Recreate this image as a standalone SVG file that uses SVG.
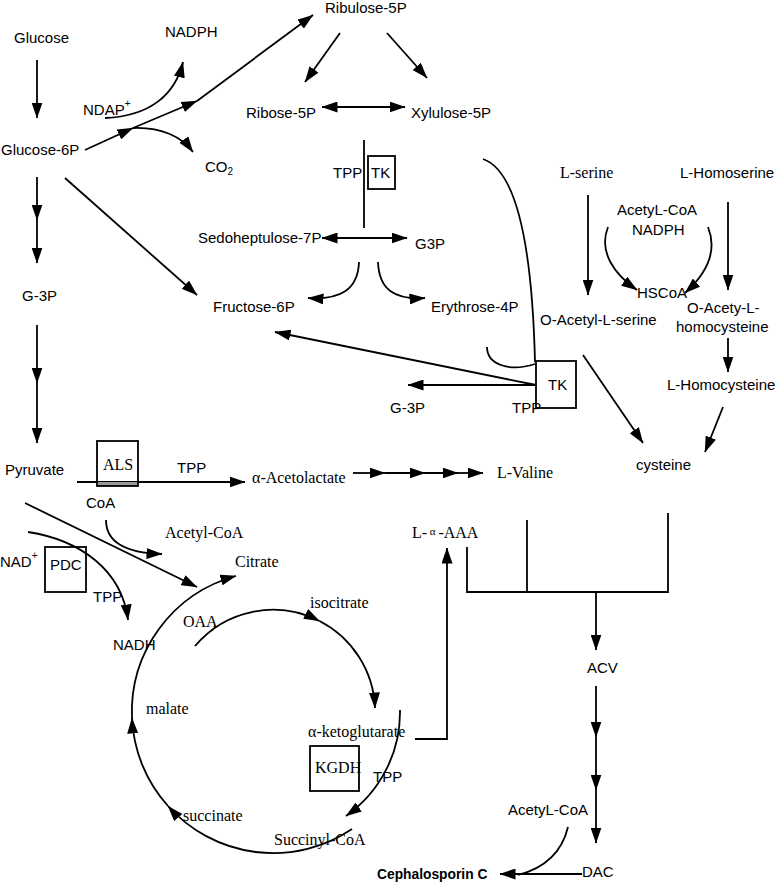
<svg xmlns="http://www.w3.org/2000/svg" width="778" height="884" viewBox="0 0 778 884">
<defs>
<marker id="ah" markerUnits="userSpaceOnUse" markerWidth="16" markerHeight="11" viewBox="0 0 16 11" refX="15.5" refY="5.5" orient="auto-start-reverse">
<path d="M0,0 L16,5.5 L0,11 z" fill="#000"/>
</marker>
</defs>
<style>
.s{font-family:"Liberation Sans",Arial,sans-serif;font-size:15px;fill:#000}
.t{font-family:"Liberation Serif","Times New Roman",serif;font-size:16px;fill:#000}
.b{font-family:"Liberation Sans",Arial,sans-serif;font-size:13.8px;font-weight:bold;fill:#000}
.c path,.c line{fill:none;stroke:#000;stroke-width:1.8}
.a{marker-end:url(#ah)}
.d{marker-start:url(#ah);marker-end:url(#ah)}
.box{fill:none;stroke:#000;stroke-width:1.8}
</style>
<rect width="778" height="884" fill="#fff"/>

<g id="connectors" class="c">
<path class="a" d="M37,60 V118"/>
<path class="a" d="M37,177 V220"/>
<path class="a" d="M37,220 V263"/>
<path class="a" d="M37,325 V383"/>
<path class="a" d="M37,383 V443"/>
<path class="a" d="M85,150 L133,128"/>
<path class="a" d="M133,128 L197,101"/>
<path class="a" d="M197,101 L313,15"/>
<path class="a" d="M105,118 C150,116 175,95 183,62"/>
<path class="a" d="M133,128 C162,127 182,137 193,152"/>
<path class="a" d="M65,178 L197,295"/>
<path class="a" d="M340,33 L305,82"/>
<path class="a" d="M387,33 L427,78"/>
<path class="d" d="M322,107 H405"/>
<path d="M364,140 V228"/>
<path class="d" d="M322,238 H407"/>
<path class="a" d="M359,262 C358,290 340,300 308,298"/>
<path class="a" d="M378,262 C379,290 395,300 425,298"/>
<path d="M483,159 C515,170 532,240 535,362"/>
<path d="M487,347 C487,365 510,372 535,364"/>
<path class="a" d="M536,385 H408"/>
<path class="a" d="M536,385 L275,332"/>
<path class="a" d="M588,195 V295"/>
<path class="a" d="M728,202 V290"/>
<path class="a" d="M608,227 C598,252 615,275 637,290"/>
<path class="a" d="M708,227 C718,252 705,275 685,293"/>
<path class="a" d="M728,338 V372"/>
<path class="a" d="M723,407 L705,452"/>
<path class="a" d="M583,355 L643,443"/>
<path class="a" d="M77,482 H245"/>
<path class="a" d="M353,473 H385"/>
<path class="a" d="M385,473 H425"/>
<path class="a" d="M425,473 H458"/>
<path class="a" d="M458,473 H483"/>
<path class="a" d="M106,520 C106,542 125,553 162,554"/>
<path class="a" d="M25,503 L197,587"/>
<path class="a" d="M28,532 C80,540 122,570 128,620"/>
<path class="a" d="M352,829 A141,141 0 0 1 168,806"/>
<path class="a" d="M168,806 A141,141 0 0 1 132,718"/>
<path class="a" d="M132,718 A141,141 0 0 1 236,576"/>
<path class="a" d="M195,646 A102,102 0 0 1 319.5,621"/>
<path class="a" d="M319.5,621 A102,102 0 0 1 375,708"/>
<path class="a" d="M400,710 A127,127 0 0 1 346,816"/>
<path class="a" d="M415,739 H447 V548"/>
<path d="M467,547 V592 H668 V513"/>
<path d="M527,520 V592"/>
<path class="a" d="M596,592 V650"/>
<path class="a" d="M596,686 V737"/>
<path class="a" d="M596,737 V790"/>
<path class="a" d="M596,790 V843"/>
<path class="a" d="M582,874 H500"/>
<path d="M568,827 C562,852 545,868 518,875"/>
</g>

<g id="glucose"><text class="s" x="14" y="43">Glucose</text></g>
<g id="nadph1"><text class="s" x="165" y="37">NADPH</text></g>
<g id="ndap"><text class="s" x="83" y="115">NDAP<tspan font-size="10" dy="-8">+</tspan></text></g>
<g id="glucose6p"><text class="s" x="1" y="155">Glucose-6P</text></g>
<g id="co2"><text class="s" x="205" y="172">CO<tspan font-size="10" dy="3">2</tspan></text></g>
<g id="ribulose5p"><text class="s" x="325" y="13">Ribulose-5P</text></g>
<g id="ribose5p"><text class="s" x="246" y="118">Ribose-5P</text></g>
<g id="xylulose5p"><text class="s" x="411" y="118">Xylulose-5P</text></g>
<g id="tk1"><rect class="box" x="368" y="156" width="27" height="33"/><text class="s" x="371" y="178">TK</text><text class="s" x="333" y="178">TPP</text></g>
<g id="sedoheptulose"><text class="s" x="198" y="243">Sedoheptulose-7P</text></g>
<g id="g3p1"><text class="s" x="415" y="249">G3P</text></g>
<g id="g3p-left"><text class="s" x="22" y="301">G-3P</text></g>
<g id="fructose6p"><text class="s" x="213" y="312">Fructose-6P</text></g>
<g id="erythrose4p"><text class="s" x="431" y="312">Erythrose-4P</text></g>
<g id="lserine"><text class="t" x="560" y="178">L-serine</text></g>
<g id="lhomoserine"><text class="s" x="680" y="178">L-Homoserine</text></g>
<g id="acetylcoa-nadph"><text class="s" x="617" y="215">AcetyL-CoA</text><text class="s" x="632" y="235">NADPH</text></g>
<g id="hscoa"><text class="s" x="637" y="298">HSCoA</text></g>
<g id="oacetylserine"><text class="s" x="540" y="325">O-Acetyl-L-serine</text></g>
<g id="oacetylhomocysteine"><text class="s" x="687" y="313">O-Acety-L-</text><text class="s" x="676" y="332">homocysteine</text></g>
<g id="lhomocysteine"><text class="s" x="667" y="390">L-Homocysteine</text></g>
<g id="tk2"><rect class="box" x="536" y="361" width="40" height="47"/><text class="s" x="548" y="390">TK</text><text class="s" x="512" y="413">TPP</text></g>
<g id="g3p2"><text class="s" x="390" y="413">G-3P</text></g>
<g id="cysteine"><text class="s" x="636" y="470">cysteine</text></g>
<g id="pyruvate"><text class="s" x="5" y="475">Pyruvate</text></g>
<g id="als"><rect x="97" y="482" width="41" height="4" fill="#999"/><rect class="box" x="97" y="441" width="41" height="45"/><text class="t" x="103" y="470">ALS</text><text class="s" x="177" y="473">TPP</text></g>
<g id="acetolactate"><text class="t" x="252" y="483">α-Acetolactate</text></g>
<g id="lvaline"><text class="t" x="497" y="478">L-Valine</text></g>
<g id="coa"><text class="s" x="86" y="508">CoA</text></g>
<g id="acetylcoa"><text class="t" x="165" y="538">Acetyl-CoA</text></g>
<g id="laaa"><text class="t" x="412" y="538">L-<tspan font-size="11" dy="-3"> α </tspan><tspan dy="3">-AAA</tspan></text></g>
<g id="citrate"><text class="t" x="235" y="567">Citrate</text></g>
<g id="pdc"><rect class="box" x="45" y="547" width="41" height="45"/><text class="s" x="50" y="570">PDC</text><text class="s" x="0" y="567">NAD<tspan font-size="10" dy="-8">+</tspan></text><text class="s" x="93" y="602">TPP</text></g>
<g id="nadh"><text class="s" x="113" y="650">NADH</text></g>
<g id="isocitrate"><text class="t" x="310" y="608">isocitrate</text></g>
<g id="oaa"><text class="t" x="183" y="627">OAA</text></g>
<g id="malate"><text class="t" x="146" y="714">malate</text></g>
<g id="akg"><text class="t" x="308" y="737">α-ketoglutarate</text></g>
<g id="kgdh"><rect class="box" x="310" y="746" width="49" height="45"/><text class="t" x="315" y="773">KGDH</text><text class="s" x="373" y="782">TPP</text></g>
<g id="succinate"><text class="t" x="183" y="821">succinate</text></g>
<g id="succinylcoa"><text class="t" x="274" y="845">Succinyl-CoA</text></g>
<g id="acv"><text class="s" x="587" y="673">ACV</text></g>
<g id="acetylcoa2"><text class="s" x="508" y="815">AcetyL-CoA</text></g>
<g id="dac"><text class="s" x="582" y="877">DAC</text></g>
<g id="cephalosporin"><text class="b" x="377" y="879">Cephalosporin C</text></g>
</svg>
